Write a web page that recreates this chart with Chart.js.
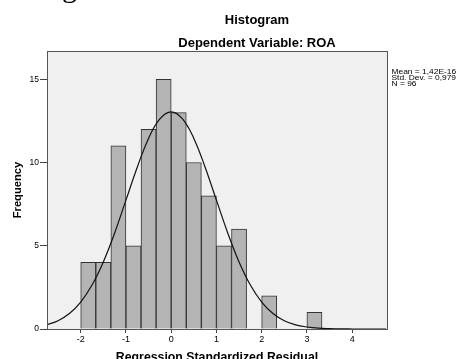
<!DOCTYPE html>
<html>
<head>
<meta charset="utf-8">
<script src="https://cdn.jsdelivr.net/npm/chart.js@4/dist/chart.umd.min.js"></script>
<style>
  html, body { margin: 0; padding: 0; background: #ffffff; }
  #wrap { width: 459px; height: 359px; position: relative; }
</style>
</head>
<body>
<div id="wrap"><canvas id="c" width="459" height="359"></canvas></div>
<script>
// ---- data ----
const chartTitle = "Histogram";
const chartSubtitle = "Dependent Variable: ROA";
const xAxisTitle = "Regression Standardized Residual";
const yAxisTitle = "Frequency";
const statsLines = ["Mean = 1,42E-16", "Std. Dev. = 0,979", "N = 96"];

const binWidth = 1 / 3;
const binStarts = [-2, -5/3, -4/3, -1, -2/3, -1/3, 0, 1/3, 2/3, 1, 4/3, 2, 3];
const binCounts = [4, 4, 11, 5, 12, 15, 13, 10, 8, 5, 6, 2, 1];

// normal curve
const curveX = [-2.75, -2.5, -2.25, -2, -1.75, -1.5, -1.25, -1, -0.75, -0.5, -0.25, 0,
                0.25, 0.5, 0.75, 1, 1.25, 1.5, 1.75, 2, 2.25, 2.5, 2.75, 3, 3.25, 3.5, 3.75, 4, 4.25, 4.5, 4.75];
const curveY = [0.25, 0.5, 0.93, 1.62, 2.64, 4.03, 5.77, 7.74, 9.72, 11.45, 12.62, 13.04,
                12.62, 11.45, 9.72, 7.74, 5.77, 4.03, 2.64, 1.62, 0.93, 0.5, 0.25, 0.12, 0.05, 0.02, 0.005, 0.001, 0, 0, 0];

const xTicks = [-2, -1, 0, 1, 2, 3, 4];
const yTicks = [0, 5, 10, 15];
const xMin = -2.745, xMax = 4.77;
const yMin = 0, yMax = 16.7;

// ---- build ----
const barData = binStarts.map((s, i) => ({ x: s + binWidth / 2, y: binCounts[i] }));
const curveData = curveX.map((x, i) => ({ x: x, y: curveY[i] }));

const FONT = "'Liberation Sans', Arial, sans-serif";

const framePlugin = {
  id: 'frame',
  beforeDatasetsDraw(chart) {
    const { ctx, chartArea: a } = chart;
    ctx.save();
    ctx.fillStyle = '#f0f0f0';
    ctx.fillRect(a.left, a.top, a.right - a.left, a.bottom - a.top);
    ctx.restore();
  },
  afterDraw(chart) {
    const { ctx, chartArea: a } = chart;
    ctx.save();
    ctx.strokeStyle = '#555555';
    ctx.lineWidth = 1;
    ctx.strokeRect(Math.round(a.left) + 0.5, Math.round(a.top) + 0.5,
                   Math.round(a.right - a.left), Math.round(a.bottom - a.top));
    // titles
    ctx.fillStyle = '#000000';
    ctx.textAlign = 'center';
    ctx.textBaseline = 'alphabetic';
    ctx.font = "bold 13px " + FONT;
    ctx.fillText(chartTitle, 257, 23.5);
    ctx.fillText(chartSubtitle, 257, 46.5);
    // x axis title
    ctx.font = "bold 12.3px " + FONT;
    ctx.fillText(xAxisTitle, (a.left + a.right) / 2, 361);
    // y axis title
    ctx.save();
    ctx.translate(20.5, 190);
    ctx.rotate(-Math.PI / 2);
    ctx.font = "bold 11.2px " + FONT;
    ctx.fillText(yAxisTitle, 0, 0);
    ctx.restore();
    // stats (text in the reference is slightly stretched horizontally)
    ctx.textAlign = 'left';
    ctx.font = "7px " + FONT;
    statsLines.forEach((t, i) => {
      ctx.save();
      ctx.translate(391.5, 74 + i * 5.9);
      ctx.scale(1.2, 1);
      ctx.fillText(t, 0, 0);
      ctx.restore();
    });
    // cut-off glyph at top-left
    ctx.font = "30px 'Liberation Serif', 'Times New Roman', serif";
    ctx.fillText("g", 62, -3);
    ctx.restore();
  }
};

new Chart(document.getElementById('c'), {
  type: 'bar',
  data: {
    datasets: [
      {
        type: 'line',
        data: curveData,
        borderColor: '#111111',
        borderWidth: 1.2,
        pointRadius: 0,
        tension: 0.4,
        fill: false,
        order: 0
      },
      {
        type: 'bar',
        data: barData,
        backgroundColor: '#b4b4b4',
        borderColor: '#333333',
        borderWidth: 1,
        borderSkipped: 'start',
        categoryPercentage: 1.0,
        barPercentage: 1.0,
        order: 1
      }
    ]
  },
  options: {
    responsive: false,
    animation: false,
    devicePixelRatio: 1,
    layout: { padding: { top: 51, right: 72, left: 0, bottom: 0 } },
    plugins: { legend: { display: false }, tooltip: { enabled: false }, title: { display: false } },
    scales: {
      x: {
        type: 'linear',
        offset: false,
        min: xMin, max: xMax,
        afterFit: s => { s.height = 30; },
        afterBuildTicks: s => { s.ticks = xTicks.map(v => ({ value: v })); },
        ticks: { font: { family: FONT, size: 9 }, color: '#000', padding: 1, maxRotation: 0 },
        grid: { offset: false, drawOnChartArea: false, drawTicks: true, tickLength: 4, color: '#444' },
        border: { display: false }
      },
      y: {
        type: 'linear',
        min: yMin, max: yMax,
        afterFit: s => { s.width = 47; },
        afterBuildTicks: s => { s.ticks = yTicks.map(v => ({ value: v })); },
        ticks: { font: { family: FONT, size: 8.5 }, color: '#000', padding: 1 },
        grid: { drawOnChartArea: false, drawTicks: true, tickLength: 7, color: '#444' },
        border: { display: false }
      }
    }
  },
  plugins: [framePlugin]
});
</script>
</body>
</html>
